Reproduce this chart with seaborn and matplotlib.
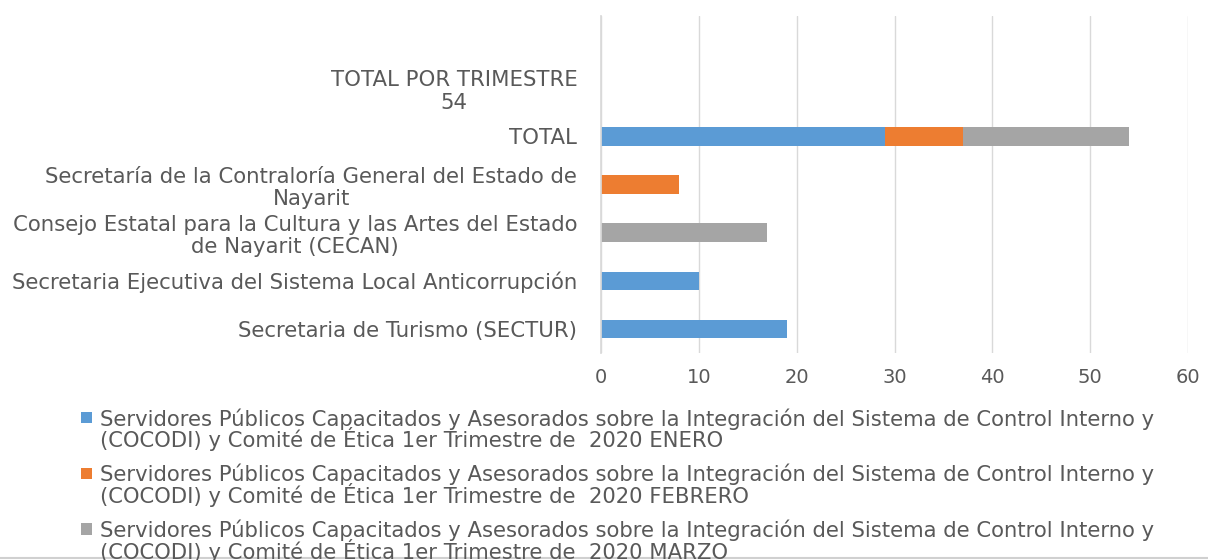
import matplotlib
matplotlib.use("Agg")
import matplotlib.pyplot as plt
from matplotlib.patches import Rectangle
from matplotlib.legend_handler import HandlerPatch
from matplotlib.lines import Line2D
import seaborn as sns
import pandas as pd
import numpy as np

# categorie dall'alto verso il basso
categorias = [" ",
              "TOTAL POR TRIMESTRE\n54",
              "TOTAL",
              "Secretaría de la Contraloría General del Estado de\nNayarit",
              "Consejo Estatal para la Cultura y las Artes del Estado\nde Nayarit (CECAN)",
              "Secretaria Ejecutiva del Sistema Local Anticorrupción",
              "Secretaria de Turismo (SECTUR)"]
enero = [0, 0, 29, 0, 0, 10, 19]
febrero = [0, 0, 8, 8, 0, 0, 0]
marzo = [0, 0, 17, 0, 17, 0, 0]

base = ("Servidores Públicos Capacitados y Asesorados sobre la Integración del Sistema de Control Interno y\n"
        "(COCODI) y Comité de Ética 1er Trimestre de  2020 ")
series = [base + "ENERO", base + "FEBRERO", base + "MARZO"]
colores = ["#5B9BD5", "#ED7D31", "#A5A5A5"]

df = pd.DataFrame({"cat": categorias, "ENERO": enero, "FEBRERO": febrero, "MARZO": marzo})
# somme cumulative per lo stack
df["c1"] = df["ENERO"]
df["c2"] = df["c1"] + df["FEBRERO"]
df["c3"] = df["c2"] + df["MARZO"]

sns.set_theme(style="white")
plt.rcParams['font.family'] = ['DejaVu Sans']
testo = "#595959"

fig = plt.figure(figsize=(12.08, 5.6), dpi=100)
ax = fig.add_axes([0.4975, 0.370, 0.486, 0.601])

# disegno dal totale verso il primo (stack)
for col, c in zip(["c3", "c2", "c1"], colores[::-1]):
    sns.barplot(data=df, x=col, y="cat", order=categorias, color=c, width=0.38,
                linewidth=0, saturation=1, ax=ax, orient="h")

ax.set_xlim(0, 60)
ax.set_xticks(np.arange(0, 61, 10))
ax.set_xlabel("")
ax.set_ylabel("")
ax.grid(axis="x", color="#D9D9D9", linewidth=1)
ax.set_axisbelow(True)
for s in ["top", "right", "bottom"]:
    ax.spines[s].set_visible(False)
ax.spines["left"].set_color("#D9D9D9")
ax.tick_params(axis="x", length=0, pad=11, labelsize=14, labelcolor=testo)
ax.tick_params(axis="y", length=0, pad=17, labelsize=15.3, labelcolor=testo)
for t in ax.get_yticklabels():
    t.set_multialignment("center")
    t.set_linespacing(1.15)


# quadratino allineato alla prima riga del testo
class QuadratoAlto(HandlerPatch):
    def create_artists(self, legend, orig_handle, xdescent, ydescent, width, height, fontsize, trans):
        p = Rectangle((-xdescent, -ydescent + 0.6 * fontsize), width, height,
                      facecolor=orig_handle.get_facecolor(), edgecolor="none", transform=trans)
        return [p]


maniglie = [Rectangle((0, 0), 1, 1, facecolor=c) for c in colores]
leg = fig.legend(maniglie, series, loc="upper left",
                 bbox_to_anchor=(0.051, 0.305), frameon=False, fontsize=15.2,
                 handlelength=0.52, handleheight=0.45, handletextpad=0.38,
                 labelspacing=0.6, labelcolor=testo,
                 handler_map={Rectangle: QuadratoAlto()})
for t in leg.get_texts():
    t.set_linespacing(0.88)

fig.add_artist(Line2D([0, 1], [0.004, 0.004], color="#D0D0D0", linewidth=1.5))

fig.savefig("out.png", dpi=100)
